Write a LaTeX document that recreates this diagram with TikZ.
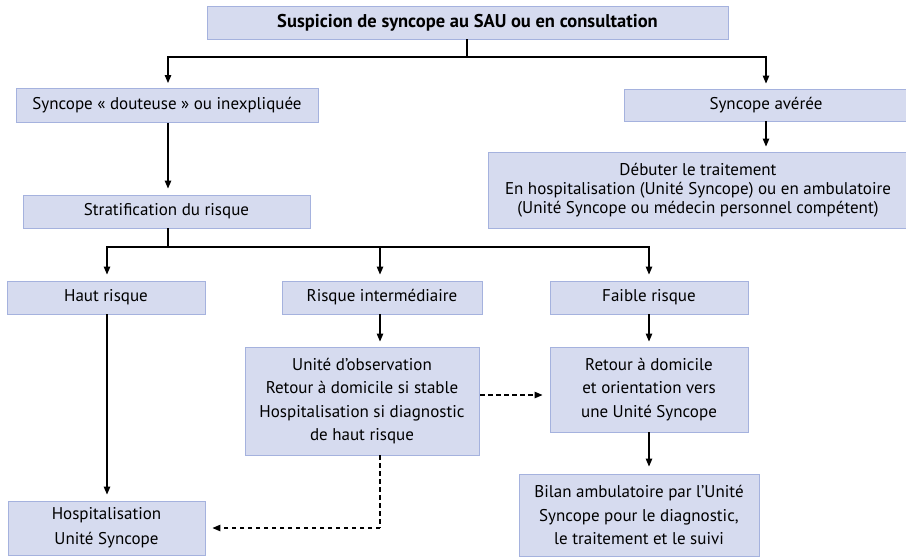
\documentclass[tikz,border=0pt]{standalone}
\usepackage{fontspec}
\setmainfont{PT Sans}
\usetikzlibrary{arrows.meta}

\definecolor{boxfill}{RGB}{214,219,239}
\definecolor{boxline}{RGB}{165,178,222}

\tikzset{
  box/.style={draw=boxline, fill=boxfill, line width=0.9pt, rectangle,
    inner sep=0pt, align=center, font=\fontsize{17}{23.5}\selectfont},
  flow/.style={line width=1.1pt, -{Triangle[length=8pt,width=6.5pt]}},
  plain/.style={line width=1.1pt},
  dflow/.style={line width=1.1pt, dash pattern=on 4.5pt off 3.5pt,
    -{Triangle[length=8pt,width=6.5pt]}},
}

\begin{document}
\begin{tikzpicture}[x=1pt,y=-1pt]
\useasboundingbox (0,0) rectangle (906,558);

% boxes
\node[box, minimum width=521pt, minimum height=33pt, font=\fontsize{18.5}{19}\selectfont\bfseries]
  (top) at (467.5,22.5) {Suspicion de syncope au SAU ou en consultation};
\node[box, minimum width=302pt, minimum height=34pt] (doubt) at (167,105.5)
  {Syncope « douteuse » ou inexpliquée};
\node[box, minimum width=287pt, minimum height=33pt] (strat) at (166.5,211.5)
  {Stratification du risque};
\node[box, minimum width=284pt, minimum height=32pt] (averee) at (766,105)
  {Syncope avérée};
\node[box, minimum width=420pt, minimum height=76pt, font=\fontsize{17}{19}\selectfont]
  (debut) at (698,190)
  {Débuter le traitement\\En hospitalisation (Unité Syncope) ou en ambulatoire\\(Unité Syncope ou médecin personnel compétent)};
\node[box, minimum width=198pt, minimum height=33pt] (haut) at (106,297.5)
  {Haut risque};
\node[box, minimum width=200pt, minimum height=33pt] (inter) at (382,297.5)
  {Risque intermédiaire};
\node[box, minimum width=198pt, minimum height=33pt] (faible) at (649,297.5)
  {Faible risque};
\node[box, minimum width=234pt, minimum height=108pt] (unite) at (362,401)
  {Unité d'observation\\Retour à domicile si stable\\Hospitalisation si diagnostic\\de haut risque};
\node[box, minimum width=198pt, minimum height=85pt] (retour) at (649,389.5)
  {Retour à domicile\\et orientation vers\\une Unité Syncope};
\node[box, minimum width=240pt, minimum height=82pt] (bilan) at (639,515)
  {Bilan ambulatoire par l’Unité\\Syncope pour le diagnostic,\\le traitement et le suivi};
\node[box, minimum width=197pt, minimum height=54pt, font=\fontsize{17}{25}\selectfont]
  (hosp) at (106.5,528) {Hospitalisation\\Unité Syncope};

% branch points
\coordinate (split1) at (467,57);
\coordinate (colA) at (168,0);
\coordinate (colB) at (766,0);
\coordinate (split2) at (168,247);
\coordinate (col1) at (107,0);
\coordinate (col2) at (380,0);
\coordinate (col3) at (649,0);
\coordinate (dashturn) at (380,528);

% first split
\draw[plain] (top.south -| split1) -- (split1);
\draw[flow, shorten >=5pt] (split1) -| (doubt.north -| colA);
\draw[flow, shorten >=5pt] (split1) -| (averee.north -| colB);
\draw[flow, shorten >=6pt] (doubt.south -| colA) -- (strat.north -| colA);
\draw[flow, shorten >=5pt] (averee.south -| colB) -- (debut.north -| colB);

% risk split
\draw[plain] (strat.south -| split2) -- (split2);
\draw[flow, shorten >=6pt] (split2) -| (haut.north -| col1);
\draw[flow, shorten >=6pt] (split2) -| (inter.north -| col2);
\draw[flow, shorten >=6pt] (split2) -| (faible.north -| col3);

% lower flows
\draw[flow, shorten >=6pt] (haut.south -| col1) -- (hosp.north -| col1);
\draw[flow, shorten >=5pt] (inter.south -| col2) -- (unite.north -| col2);
\draw[flow, shorten >=5pt] (faible.south -| col3) -- (retour.north -| col3);
\draw[flow, shorten >=7pt] (retour.south -| col3) -- (bilan.north -| col3);

% dashed flows
\draw[dflow, shorten <=1pt, shorten >=7pt] (unite.east |- 0,395) -- (retour.west |- 0,395);
\draw[plain, dash pattern=on 4.5pt off 3.5pt] (unite.south -| col2) -- (dashturn);
\draw[dflow, shorten >=7pt] (dashturn) -- (hosp.east |- dashturn);
\end{tikzpicture}
\end{document}
